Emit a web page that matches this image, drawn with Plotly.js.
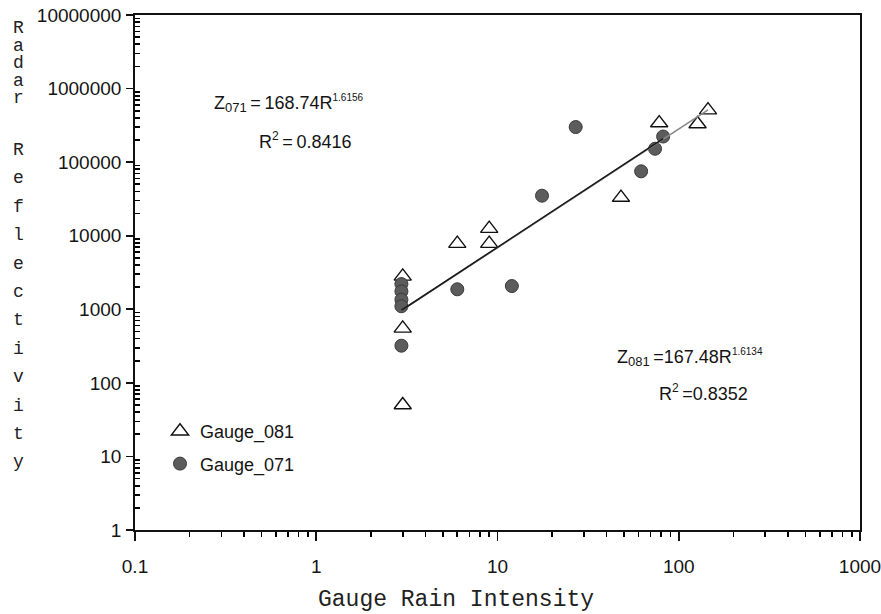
<!DOCTYPE html>
<html>
<head>
<meta charset="utf-8">
<script src="https://cdn.plot.ly/plotly-3.0.1.min.js"></script>
<style>
html,body{margin:0;padding:0;background:#fff;}
#chart{width:881px;height:614px;}
</style>
</head>
<body>
<div id="chart"></div>
<script>
// ---- data ----
const gauge081_x = [3, 3, 3, 6, 9, 9, 48, 78, 127, 145];
const gauge081_y = [2800, 550, 50, 7800, 12500, 7800, 33000, 340000, 330000, 510000];

const gauge071_x = [2.95, 2.95, 2.95, 2.95, 2.95, 6, 12, 17.6, 27, 62, 74, 82];
const gauge071_y = [2200, 1750, 1350, 1100, 320, 1870, 2070, 35000, 300000, 75000, 152000, 223000];

// power-law fit lines (end points; straight on log-log axes)
const fit071_x = [2.95, 82];
const fit071_y = [969, 208400];
const fit081_x = [2.95, 145];
const fit081_y = [959, 514000];

const xTickVals = [0.1, 1, 10, 100, 1000];
const xTickText = ['0.1', '1', '10', '100', '1000'];
const yTickVals = [1, 10, 100, 1000, 10000, 100000, 1000000, 10000000];
const yTickText = ['1', '10', '100', '1000', '10000', '100000', '1000000', '10000000'];

const xTitle = 'Gauge Rain Intensity';
const yTitleWords = ['Radar', 'Reflectivity'];

// ---- layout geometry ----
const W = 881, H = 614;
const M = {l: 135, r: 21, t: 15, b: 84};
const PW = W - M.l - M.r, PH = H - M.t - M.b;
const px = x => (x - M.l) / PW;
const py = y => (H - M.b - y) / PH;

// minor tick positions (2..9 within each decade)
const minorBetween = majors => {
  const out = [];
  for (let i = 0; i < majors.length - 1; i++) {
    for (let k = 2; k <= 9; k++) out.push(majors[i] * k);
  }
  return out;
};

const sans = 'Liberation Sans, Arial, sans-serif';
const mono = 'Liberation Mono, Courier New, DejaVu Sans Mono, monospace';
const TXT = '#141414';

const traces = [
  {
    x: gauge081_x, y: gauge081_y, mode: 'markers', type: 'scatter', name: 'Gauge_081',
    legendgroup: 'a',
    marker: {symbol: 'triangle-up', size: 15, color: '#ffffff', line: {color: '#111', width: 1.4}}
  },
  {
    x: gauge071_x, y: gauge071_y, mode: 'markers', type: 'scatter', name: 'Gauge_071',
    legendgroup: 'b',
    marker: {symbol: 'circle', size: 13, color: '#5c5c5c', line: {color: '#3a3a3a', width: 1}}
  },
  {
    x: fit081_x, y: fit081_y, mode: 'lines', type: 'scatter', showlegend: false,
    line: {color: '#8a8a8a', width: 1.6}
  },
  {
    x: fit071_x, y: fit071_y, mode: 'lines', type: 'scatter', showlegend: false,
    line: {color: '#1a1a1a', width: 1.6}
  }
];

const annotations = [];
// vertical stacked y-axis title
const wordStart = [28, 150], wordStep = [17.5, 28.4];
yTitleWords.forEach((w, wi) => {
  [...w].forEach((ch, ci) => {
    annotations.push({
      xref: 'paper', yref: 'paper', x: px(18), y: py(wordStart[wi] + ci * wordStep[wi]),
      xanchor: 'center', yanchor: 'middle',
      text: ch, showarrow: false, font: {family: mono, size: 18, color: '#222'}
    });
  });
});

// x-axis title
annotations.push({
  xref: 'paper', yref: 'paper', x: px(456), y: py(600), xanchor: 'center', yanchor: 'middle',
  text: xTitle, showarrow: false, font: {family: mono, size: 23, color: '#222'}
});

const sup = (s, fs) => '<sup><span style="font-size:' + fs + 'px">' + s + '</span></sup>';
const sub = s => '<sub><span style="font-size:13px">' + s + '</span></sub>';
const eqFont = {family: sans, size: 18, color: TXT};

annotations.push({
  xref: 'paper', yref: 'paper', x: px(289), y: py(104), xanchor: 'center', yanchor: 'middle',
  text: 'Z' + sub('071') + '\u2009=\u2009168.74R' + sup('1.6156', 10), showarrow: false, font: eqFont
});
annotations.push({
  xref: 'paper', yref: 'paper', x: px(305), y: py(140), xanchor: 'center', yanchor: 'middle',
  text: 'R' + sup('2', 12) + '\u2009=\u20090.8416', showarrow: false, font: eqFont
});
annotations.push({
  xref: 'paper', yref: 'paper', x: px(690), y: py(357), xanchor: 'center', yanchor: 'middle',
  text: 'Z' + sub('081') + '\u2009=167.48R' + sup('1.6134', 10), showarrow: false, font: eqFont
});
annotations.push({
  xref: 'paper', yref: 'paper', x: px(703), y: py(393), xanchor: 'center', yanchor: 'middle',
  text: 'R' + sup('2', 12) + '\u2009=0.8352', showarrow: false, font: eqFont
});

const axisCommon = {
  type: 'log', showgrid: false, zeroline: false,
  showline: true, linecolor: '#111', linewidth: 1.8, mirror: true,
  ticks: 'outside', ticklen: 7, tickwidth: 1.6, tickcolor: '#111',
  tickfont: {family: sans, size: 19, color: TXT},
  ticklabeloverflow: 'allow'
};

const layout = {
  width: W, height: H,
  margin: M,
  paper_bgcolor: '#fff', plot_bgcolor: '#fff',
  showlegend: true,
  legend: {
    x: px(160), y: py(413), xanchor: 'left', yanchor: 'top',
    bgcolor: 'rgba(0,0,0,0)', borderwidth: 0,
    font: {family: sans, size: 18, color: TXT},
    tracegroupgap: 6, traceorder: 'grouped'
  },
  xaxis: Object.assign({}, axisCommon, {
    range: [-1, 3], tickmode: 'array', tickvals: xTickVals, ticktext: xTickText,
    ticklen: 9, ticklabelstandoff: 9,
    minor: {tickmode: 'array', tickvals: minorBetween(xTickVals), ticks: 'outside', ticklen: 5,
            tickwidth: 1.6, tickcolor: '#000000', showgrid: false}
  }),
  yaxis: Object.assign({}, axisCommon, {
    range: [0, 7], tickmode: 'array', tickvals: yTickVals, ticktext: yTickText,
    ticklabelstandoff: 1,
    minor: {tickmode: 'array', tickvals: minorBetween(yTickVals), ticks: 'inside', ticklen: 5,
            tickwidth: 1.6, tickcolor: '#000000', showgrid: false}
  }),
  annotations: annotations
};

Plotly.newPlot('chart', traces, layout, {displayModeBar: false, staticPlot: true});
</script>
</body>
</html>
